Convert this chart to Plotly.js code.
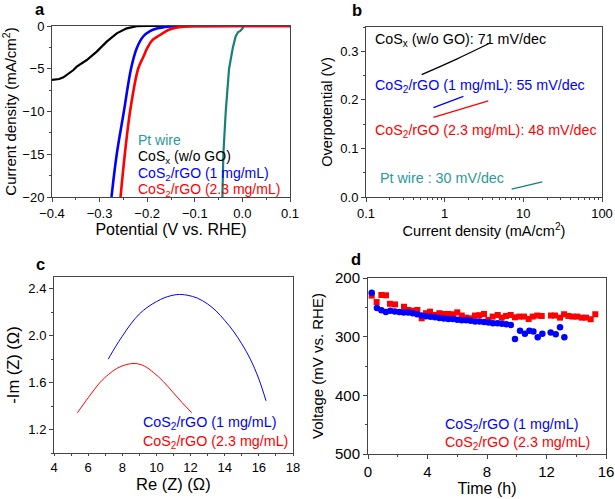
<!DOCTYPE html>
<html><head><meta charset="utf-8">
<script src="https://cdn.plot.ly/plotly-3.0.1.min.js"></script>
<style>body{margin:0;padding:0;background:#fff}#plot{width:615px;height:499px}</style>
</head><body><div id="plot"></div>
<script>
// ---------- Panel a: polarization curves ----------
const potPt   = [-0.042,-0.040,-0.035,-0.028,-0.020,-0.014,-0.009,-0.005,0.000,0.003,0.030,0.032,0.050,0.052,0.100];
const curPt   = [-20,-15,-10,-5,-2.5,-1.2,-0.7,-0.6,-0.3,0,0,0.05,0,0.05,0];
const potCoSx = [-0.400,-0.385,-0.376,-0.365,-0.355,-0.348,-0.340,-0.327,-0.306,-0.285,-0.264,-0.243,-0.222,-0.200,0.100];
const curCoSx = [-6.3,-6.2,-6.0,-5.6,-5.15,-4.76,-4.5,-3.98,-3.0,-1.83,-0.86,-0.27,-0.02,0,0];
const potG1   = [-0.275,-0.264,-0.249,-0.234,-0.222,-0.208,-0.194,-0.180,-0.166,-0.150,-0.130,-0.100,0.100];
const curG1   = [-20,-15,-10,-5,-2.6,-1.2,-0.6,-0.3,-0.15,-0.05,-0.01,0,0];
const potG23  = [-0.256,-0.247,-0.236,-0.219,-0.208,-0.200,-0.190,-0.173,-0.160,-0.152,-0.140,-0.124,-0.100,0.100];
const curG23  = [-20,-15,-10,-5,-3.6,-2.6,-1.7,-1.05,-0.6,-0.39,-0.2,-0.08,-0.01,0];
const legendA = ['Pt wire','CoS<sub>x</sub> (w/o GO)','CoS<sub>2</sub>/rGO (1 mg/mL)','CoS<sub>2</sub>/rGO (2.3 mg/mL)'];

// ---------- Panel b: Tafel plots ----------
const jCoSx = [0.51,1.42,3.77];   const etaCoSx = [0.252,0.284,0.317];
const jG1   = [0.72,1.73];        const etaG1   = [0.184,0.207];
const jG23  = [0.72,3.59];        const etaG23  = [0.164,0.198];
const jPt   = [7.1,17.4];         const etaPt   = [0.016,0.031];
const labelsB = ['CoS<sub>x</sub> (w/o GO): 71 mV/dec','CoS<sub>2</sub>/rGO (1 mg/mL): 55 mV/dec','CoS<sub>2</sub>/rGO (2.3 mg/mL): 48 mV/dec','Pt wire : 30 mV/dec'];
const tickB = [0.1,1,10,100];
const tickBText = ['0.1','1','10','100'];

// ---------- Panel c: Nyquist plots ----------
const reG1  = [7.18,7.6,8.0,8.5,9.0,9.5,10.0,10.5,11.2,11.8,12.4,13.0,13.5,14.0,14.5,15.0,15.5,16.0,16.42];
const imG1  = [1.80,1.905,1.995,2.10,2.185,2.245,2.29,2.325,2.35,2.345,2.32,2.27,2.21,2.13,2.04,1.93,1.80,1.63,1.445];
const reG23 = [5.37,6.0,6.69,7.2,7.67,8.2,8.76,9.3,9.83,10.4,10.99,11.5,12.07];
const imG23 = [1.343,1.47,1.60,1.67,1.72,1.752,1.763,1.74,1.686,1.61,1.514,1.43,1.343];
const legendC = ['CoS<sub>2</sub>/rGO (1 mg/mL)','CoS<sub>2</sub>/rGO (2.3 mg/mL)'];

// ---------- Panel d: stability ----------
const tG1 = [0.25,0.6,0.9,1.2,1.5,1.8,2.1,2.4,2.7,3.0,3.3,3.6,3.9,4.2,4.5,4.8,5.1,5.4,5.7,6.0,6.3,6.6,6.9,7.2,7.5,7.8,8.1,8.4,8.7,9.0,9.3,9.6,
             9.88,10.22,10.55,10.85,11.12,11.41,11.72,12.28,12.62,12.91,13.2];
const vG1 = [225,251,255,258,256,257,258,259,259,260,262,264,265,266,267,268,269,270,270,271,272,272,273,274,274,275,276,277,277,278,279,280,
             304,290,295,290,291,301,295,293,296,284,301];
const tG23 = [0.25,0.58,0.9,1.21,1.48,1.82,2.42,2.71,3.0,3.32,3.61,3.9,4.17,4.5,4.8,5.11,5.4,5.74,6.0,6.3,6.59,6.9,7.19,7.49,7.8,8.09,8.38,8.72,8.99,9.28,9.59,
              9.88,10.17,10.49,10.8,11.07,11.38,11.68,12.3,12.57,12.91,13.18,13.47,13.76,14.07,14.37,14.66,14.97,15.28];
const vG23 = [230,241,229,229.5,244,245,249,254.5,255.7,254.5,268.7,260,257.4,263,260,261.3,261.3,261.8,258.5,264,267.6,268.7,264,263.4,261.3,271.5,265.8,263,267.6,264.7,263,
              267,265.8,265.8,269.8,265.8,264,264.7,264,264,267.6,261.8,264.7,265.8,265.8,267.6,267.6,270.3,261.8];
const legendD = ['CoS<sub>2</sub>/rGO (1 mg/mL)','CoS<sub>2</sub>/rGO (2.3 mg/mL)'];

const BLUE='#0000ff', RED='#ff0000', BLACK='#000000', TEAL='#13807a', TEALTXT='#2a9a9a';
const F = 'Liberation Sans, Arial, sans-serif';

const traces = [
  {x:potCoSx,y:curCoSx,mode:'lines',line:{color:BLACK,width:2.2},xaxis:'x',yaxis:'y'},
  {x:potPt,y:curPt,mode:'lines',line:{color:TEAL,width:2.2},xaxis:'x',yaxis:'y'},
  {x:potG1,y:curG1,mode:'lines',line:{color:BLUE,width:2.6,shape:'spline'},xaxis:'x',yaxis:'y'},
  {x:potG23,y:curG23,mode:'lines',line:{color:RED,width:2.6,shape:'spline'},xaxis:'x',yaxis:'y'},

  {x:jCoSx,y:etaCoSx,mode:'lines',line:{color:BLACK,width:1.3,shape:'spline'},xaxis:'x2',yaxis:'y2'},
  {x:jG1,y:etaG1,mode:'lines',line:{color:BLUE,width:1.3},xaxis:'x2',yaxis:'y2'},
  {x:jG23,y:etaG23,mode:'lines',line:{color:RED,width:1.3},xaxis:'x2',yaxis:'y2'},
  {x:jPt,y:etaPt,mode:'lines',line:{color:TEAL,width:1.3},xaxis:'x2',yaxis:'y2'},

  {x:reG1,y:imG1,mode:'lines',line:{color:BLUE,width:1,shape:'spline'},xaxis:'x3',yaxis:'y3'},
  {x:reG23,y:imG23,mode:'lines',line:{color:RED,width:1,shape:'spline'},xaxis:'x3',yaxis:'y3'},

  {x:tG23,y:vG23,mode:'markers',marker:{color:RED,symbol:'square',size:6},xaxis:'x4',yaxis:'y4'},
  {x:tG1,y:vG1,mode:'markers',marker:{color:BLUE,symbol:'circle',size:6.5},xaxis:'x4',yaxis:'y4'}
];

const axLine = {showline:true,mirror:true,linecolor:'#444',linewidth:1,ticks:'outside',ticklen:4,tickcolor:'#444',
  showgrid:false,zeroline:false,tickfont:{family:F,size:13,color:'#000'}};
function ax(extra){return Object.assign({},axLine,extra);}
const tf = (s)=>({family:F,size:s,color:'#000'});

// minor tick positions for the log axis (2..9 in each decade)
const minorB = [];
[0.1,1,10].forEach(d=>{for(let k=2;k<=9;k++) minorB.push(+(k*d).toPrecision(3));});

const layout = {
  width:615,height:499,margin:{l:0,r:0,t:0,b:0},showlegend:false,
  paper_bgcolor:'#fff',plot_bgcolor:'#fff',font:{family:F,color:'#000'},
  xaxis: ax({domain:[52/615,290/615],anchor:'y',range:[-0.4,0.1],dtick:0.1,tickformat:'.1f',
     minor:{ticks:'outside',ticklen:2,dtick:0.05,tickcolor:'#444'},
     title:{text:'Potential (V vs. RHE)',font:tf(16),standoff:4}}),
  yaxis: ax({domain:[1-197/499,1-26/499],anchor:'x',range:[-20,0],dtick:5,
     minor:{ticks:'outside',ticklen:2,dtick:2.5,tickcolor:'#444'},
     title:{text:'Current density (mA/cm<sup>2</sup>)',font:tf(15),standoff:4}}),
  xaxis2: ax({domain:[366/615,602/615],anchor:'y2',type:'log',range:[-1,2],
     tickmode:'array',tickvals:tickB,ticktext:tickBText,
     minor:{ticks:'outside',ticklen:2,tickmode:'array',tickvals:minorB,tickcolor:'#444'},
     title:{text:'Current density (mA/cm<sup>2</sup>)',font:tf(14.5),standoff:4}}),
  yaxis2: ax({domain:[1-197/499,1-27/499],anchor:'x2',range:[0,0.35],dtick:0.1,tickformat:'.1f',
     minor:{ticks:'outside',ticklen:2,dtick:0.05,tickcolor:'#444'},
     title:{text:'Overpotential (V)',font:tf(14.5),standoff:4}}),
  xaxis3: ax({domain:[54/615,293/615],anchor:'y3',range:[4,18],dtick:2,ticklen:2,
     minor:{ticks:'outside',ticklen:2,dtick:1,tickcolor:'#444'}}),
  yaxis3: ax({domain:[1-453/499,1-277/499],anchor:'x3',range:[1.0,2.5],dtick:0.4,tick0:1.2,tickformat:'.1f',
     minor:{ticks:'outside',ticklen:2,dtick:0.2,tick0:1.2,tickcolor:'#444'},
     title:{text:'-Im (Z) (Ω)',font:tf(16.5),standoff:4}}),
  xaxis4: ax({domain:[368/615,606/615],anchor:'y4',range:[0,16],dtick:4,tickfont:tf(15),
     minor:{ticks:'outside',ticklen:2,dtick:2,tickcolor:'#444'},
     title:{text:'Time (h)',font:tf(16),standoff:0}}),
  yaxis4: ax({domain:[1-454/499,1-278/499],anchor:'x4',range:[500,200],dtick:100,tickfont:tf(15),
     minor:{ticks:'outside',ticklen:2,dtick:50,tickcolor:'#444'},
     title:{text:'Voltage (mV vs. RHE)',font:tf(15),standoff:7}}),
  annotations:[]
};

function ann(text,x,y,color,size,bold,anchor){
  layout.annotations.push({text: bold?'<b>'+text+'</b>':text, x:x/615, y:1-y/499, xref:'paper', yref:'paper',
    xanchor:anchor||'left', yanchor:'middle', showarrow:false, font:{family:F,size:size,color:color}});
}
// panel letters
ann('a',33,9,'#000',16.5,true);
ann('b',350,10,'#000',16.5,true);
ann('c',34,264,'#000',16.5,true);
ann('d',349,259,'#000',16.5,true);
// panel c x-axis title
ann('Re (Z) (Ω)',173,484,'#000',16.5,false,'center');
// legend a
ann(legendA[0],136,140,TEALTXT,14);
ann(legendA[1],136,157,BLACK,14);
ann(legendA[2],136,174,BLUE,14);
ann(legendA[3],136,190,RED,14);
// labels b
ann(labelsB[0],373,40,BLACK,14.3);
ann(labelsB[1],373,86,BLUE,14.3);
ann(labelsB[2],373,131,RED,14.3);
ann(labelsB[3],378,178,TEALTXT,14.3);
// legend c
ann(legendC[0],141,423,BLUE,14.3);
ann(legendC[1],141,442,RED,14.3);
// legend d
ann(legendD[0],443,425,BLUE,14.3);
ann(legendD[1],443,443,RED,14.3);

Plotly.newPlot('plot',traces,layout,{displayModeBar:false,staticPlot:true});
</script></body></html>
